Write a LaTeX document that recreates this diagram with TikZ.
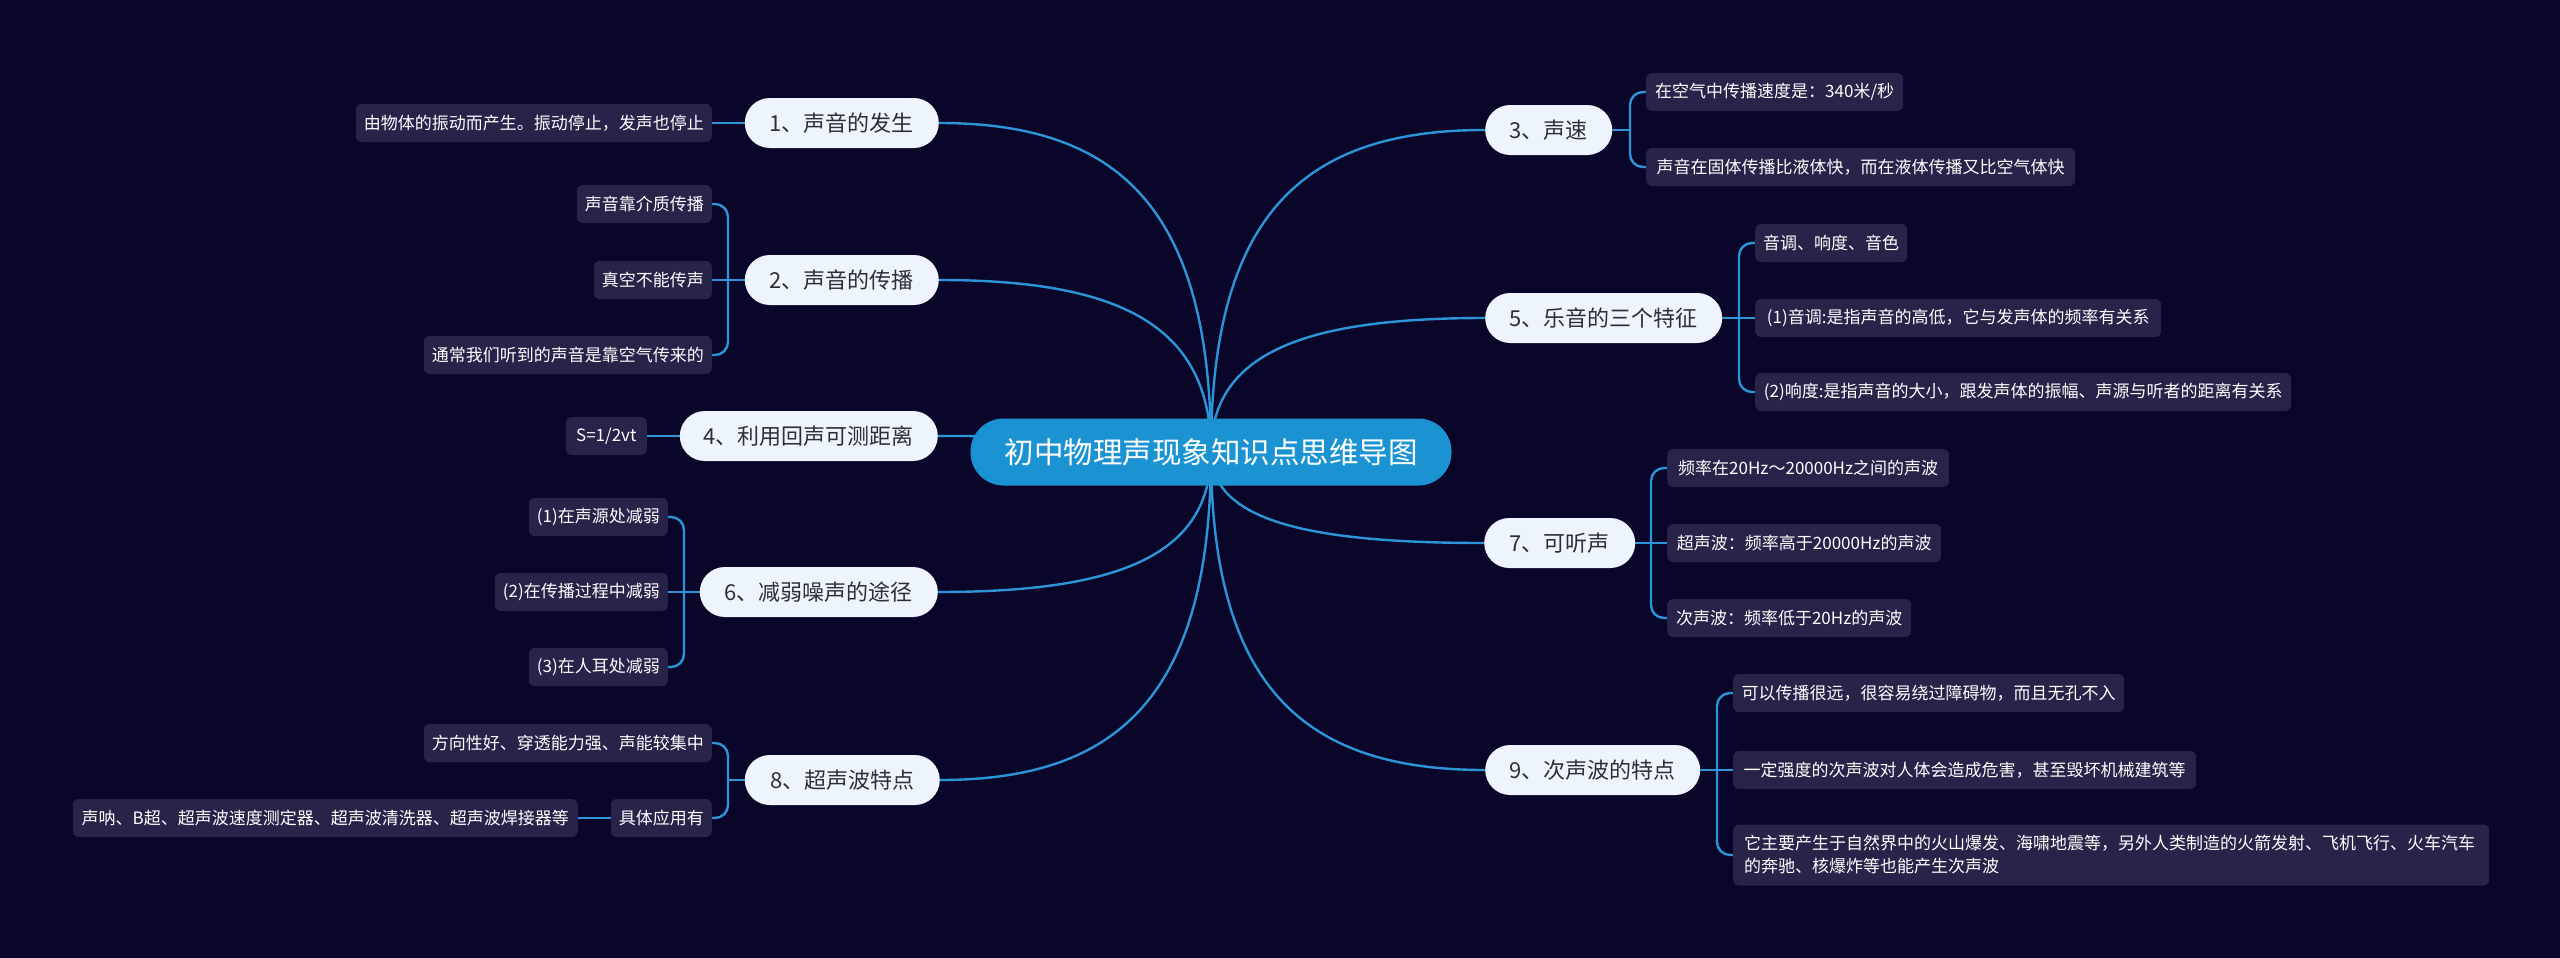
\documentclass[tikz,border=0pt]{standalone}
\usepackage{fontspec}
\newfontfamily\cjk{Noto Sans CJK SC}
\usetikzlibrary{calc,backgrounds}
\definecolor{bgc}{HTML}{0A0629}
\definecolor{rootc}{HTML}{1B93D3}
\definecolor{linec}{HTML}{2C95D8}
\definecolor{leafc}{HTML}{272349}
\definecolor{mainc}{HTML}{EEF4FD}
\definecolor{maintext}{HTML}{2E2E3A}
\newcommand\mmbranch[2]{\draw[link] (#1.center) .. controls ($(#1.center)!0.75!(#1.center |- #2)$) and ($(#2)!0.65!(#2 -| #1.center)$) .. (#2);}
\begin{document}
\begin{tikzpicture}[x=1pt,y=-1pt,
  rootbox/.style={fill=rootc, rounded corners=33pt, minimum height=67pt, inner sep=0pt, text=white, font=\cjk\fontsize{29.5}{34}\selectfont},
  topic/.style={fill=mainc, rounded corners=25pt, minimum height=50pt, inner sep=0pt, text=maintext, font=\cjk\fontsize{22}{26}\selectfont},
  leaf/.style={fill=leafc, rounded corners=6pt, minimum height=38pt, inner sep=0pt, text=white, font=\cjk\fontsize{17}{20}\selectfont},
  link/.style={draw=linec, line width=2.4pt},
  bracket/.style={link, rounded corners=13pt}]
\useasboundingbox (0,0) rectangle (2560,958);

% root
\node[rootbox, minimum width=481pt] (root) at (1211,452) {初中物理声现象知识点思维导图};

% left topics
\node[topic, minimum width=194pt, anchor=east] (n1) at (939,123) {1、声音的发生};
\node[topic, minimum width=194pt, anchor=east] (n2) at (939,280) {2、声音的传播};
\node[topic, minimum width=258pt, anchor=east] (n4) at (938,436) {4、利用回声可测距离};
\node[topic, minimum width=238pt, anchor=east] (n6) at (938,592) {6、减弱噪声的途径};
\node[topic, minimum width=195pt, anchor=east] (n8) at (940,780) {8、超声波特点};

% right topics
\node[topic, minimum width=127pt, anchor=west] (n3) at (1485,130) {3、声速};
\node[topic, minimum width=237pt, anchor=west] (n5) at (1485,318) {5、乐音的三个特征};
\node[topic, minimum width=151pt, anchor=west] (n7) at (1484,543) {7、可听声};
\node[topic, minimum width=215pt, anchor=west] (n9) at (1485,770) {9、次声波的特点};

% left leaves
\node[leaf, minimum width=356pt, anchor=east] (l1) at (712,123) {由物体的振动而产生。振动停止，发声也停止};
\node[leaf, minimum width=135pt, anchor=east] (l2a) at (712,204) {声音靠介质传播};
\node[leaf, minimum width=118pt, anchor=east] (l2b) at (712,280) {真空不能传声};
\node[leaf, minimum width=288pt, anchor=east] (l2c) at (712,355) {通常我们听到的声音是靠空气传来的};
\node[leaf, minimum width=81pt, anchor=east] (l4) at (647,436) {S=1/2vt};
\node[leaf, minimum width=139pt, anchor=east] (l6a) at (668,517) {(1)在声源处减弱};
\node[leaf, minimum width=173pt, anchor=east] (l6b) at (668,592) {(2)在传播过程中减弱};
\node[leaf, minimum width=139pt, anchor=east] (l6c) at (668,667) {(3)在人耳处减弱};
\node[leaf, minimum width=288pt, anchor=east] (l8a) at (712,743) {方向性好、穿透能力强、声能较集中};
\node[leaf, minimum width=101pt, anchor=east] (l8b) at (712,818) {具体应用有};
\node[leaf, minimum width=505pt, anchor=east] (l8c) at (578,818) {声呐、B超、超声波速度测定器、超声波清洗器、超声波焊接器等};

% right leaves
\node[leaf, minimum width=257pt, anchor=west] (l3a) at (1646,92) {在空气中传播速度是：340米/秒};
\node[leaf, minimum width=429pt, anchor=west] (l3b) at (1646,167) {声音在固体传播比液体快，而在液体传播又比空气体快};
\node[leaf, minimum width=152pt, anchor=west] (l5a) at (1755,243) {音调、响度、音色};
\node[leaf, minimum width=406pt, anchor=west] (l5b) at (1755,318) {(1)音调:是指声音的高低，它与发声体的频率有关系};
\node[leaf, minimum width=536pt, anchor=west] (l5c) at (1755,392) {(2)响度:是指声音的大小，跟发声体的振幅、声源与听者的距离有关系};
\node[leaf, minimum width=282pt, anchor=west] (l7a) at (1667,468) {频率在20Hz～20000Hz之间的声波};
\node[leaf, minimum width=274pt, anchor=west] (l7b) at (1667,543) {超声波：频率高于20000Hz的声波};
\node[leaf, minimum width=244pt, anchor=west] (l7c) at (1667,618) {次声波：频率低于20Hz的声波};
\node[leaf, minimum width=391pt, anchor=west] (l9a) at (1733,693) {可以传播很远，很容易绕过障碍物，而且无孔不入};
\node[leaf, minimum width=463pt, anchor=west] (l9b) at (1733,770) {一定强度的次声波对人体会造成危害，甚至毁坏机械建筑等};
\node[leaf, minimum width=756pt, minimum height=61pt, anchor=west, align=left, text width=734pt, font=\cjk\fontsize{17}{23}\selectfont] (l9c) at (1733,855) {它主要产生于自然界中的火山爆发、海啸地震等，另外人类制造的火箭发射、飞机飞行、火车汽车\\的奔驰、核爆炸等也能产生次声波};

% bracket junctions
\coordinate (b1) at (728,280);
\coordinate (b6) at (684,592);
\coordinate (b8) at (728,780);
\coordinate (b3) at (1630,130);
\coordinate (b5) at (1739,318);
\coordinate (b7) at (1651,543);
\coordinate (b9) at (1717,770);

\begin{scope}[on background layer]
\fill[bgc] (0,0) rectangle (2560,958);
% root branches
\mmbranch{root}{n1.east}
\mmbranch{root}{n2.east}
\mmbranch{root}{n4.east}
\mmbranch{root}{n6.east}
\mmbranch{root}{n8.east}
\mmbranch{root}{n3.west}
\mmbranch{root}{n5.west}
\mmbranch{root}{n7.west}
\mmbranch{root}{n9.west}
% left leaf links
\draw[link] (n1.west) -- (l1.east);
\draw[link] (n2.west) -- (l2b.east);
\draw[bracket] (l2a.east) -| (b1);
\draw[bracket] (l2c.east) -| (b1);
\draw[link] (n4.west) -- (l4.east);
\draw[link] (n6.west) -- (l6b.east);
\draw[bracket] (l6a.east) -| (b6);
\draw[bracket] (l6c.east) -| (b6);
\draw[link] (n8.west) -- (b8);
\draw[bracket] (l8a.east) -| (b8);
\draw[bracket] (l8b.east) -| (b8);
\draw[link] (l8b.west) -- (l8c.east);
% right leaf links
\draw[link] (n3.east) -- (b3);
\draw[bracket] (l3a.west) -| (b3);
\draw[bracket] (l3b.west) -| (b3);
\draw[link] (n5.east) -- (l5b.west);
\draw[bracket] (l5a.west) -| (b5);
\draw[bracket] (l5c.west) -| (b5);
\draw[link] (n7.east) -- (l7b.west);
\draw[bracket] (l7a.west) -| (b7);
\draw[bracket] (l7c.west) -| (b7);
\draw[link] (n9.east) -- (l9b.west);
\draw[bracket] (l9a.west) -| (b9);
\draw[bracket] (l9c.west) -| (b9);
\end{scope}
\end{tikzpicture}
\end{document}
